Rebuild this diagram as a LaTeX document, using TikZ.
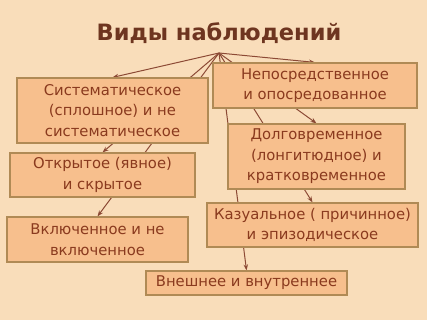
\documentclass[tikz,border=0pt]{standalone}
\usepackage{fontspec}
\setmainfont{DejaVu Sans}
\usetikzlibrary{arrows.meta,backgrounds}
\definecolor{bgc}{HTML}{F9DDBA}
\definecolor{boxfill}{HTML}{F7BF8D}
\definecolor{boxline}{HTML}{B08A55}
\definecolor{txt}{HTML}{8A3A1E}
\definecolor{ttl}{HTML}{6E3520}
\definecolor{arr}{HTML}{8C4A35}
\tikzset{
  kind/.style={draw=boxline, line width=1.2pt, fill=boxfill, text=txt, align=center,
    inner sep=0pt, font=\fontsize{14.8}{20.5}\selectfont},
  link/.style={draw=arr, line width=1pt, -{Stealth[length=6pt,width=4.5pt]}}
}
\begin{document}
\begin{tikzpicture}[x=1pt,y=-1pt]
\useasboundingbox (0,0) rectangle (427,320);
\node[text=ttl, font=\fontsize{22.5}{26}\selectfont\bfseries] (title) at (219,33) {Виды наблюдений};
\coordinate (root) at (219,53);
\node[kind, minimum width=191pt, minimum height=65pt] (sys) at (112.5,110.5) {Систематическое\\(сплошное) и не\\систематическое};
\node[kind, minimum width=204pt, minimum height=45pt] (nep) at (315,85.5) {Непосредственное\\и опосредованное};
\node[kind, minimum width=177pt, minimum height=65pt] (dol) at (316.5,156.5) {Долговременное\\(лонгитюдное) и\\кратковременное};
\node[kind, minimum width=185pt, minimum height=44pt] (otk) at (102.5,175) {Открытое (явное)\\и скрытое};
\node[kind, minimum width=181pt, minimum height=45pt] (vkl) at (97.5,239.5) {Включенное и не\\включенное};
\node[kind, minimum width=211pt, minimum height=44pt] (kaz) at (312.5,225) {Казуальное ( причинное)\\и эпизодическое};
\node[kind, minimum width=201pt, minimum height=24pt] (vne) at (246.5,283) {Внешнее и внутреннее};
\begin{scope}[on background layer]
\fill[bgc] (0,0) rectangle (427,320);
\draw[link] (root) -- (sys.north);
\draw[link] (root) -- (nep.north);
\draw[link] (root) -- (otk.north);
\draw[link] (root) -- (vkl.north);
\draw[link] (root) -- (dol.north);
\draw[link] (root) -- (kaz.north);
\draw[link] (root) -- (vne.north);
\end{scope}
\end{tikzpicture}
\end{document}
